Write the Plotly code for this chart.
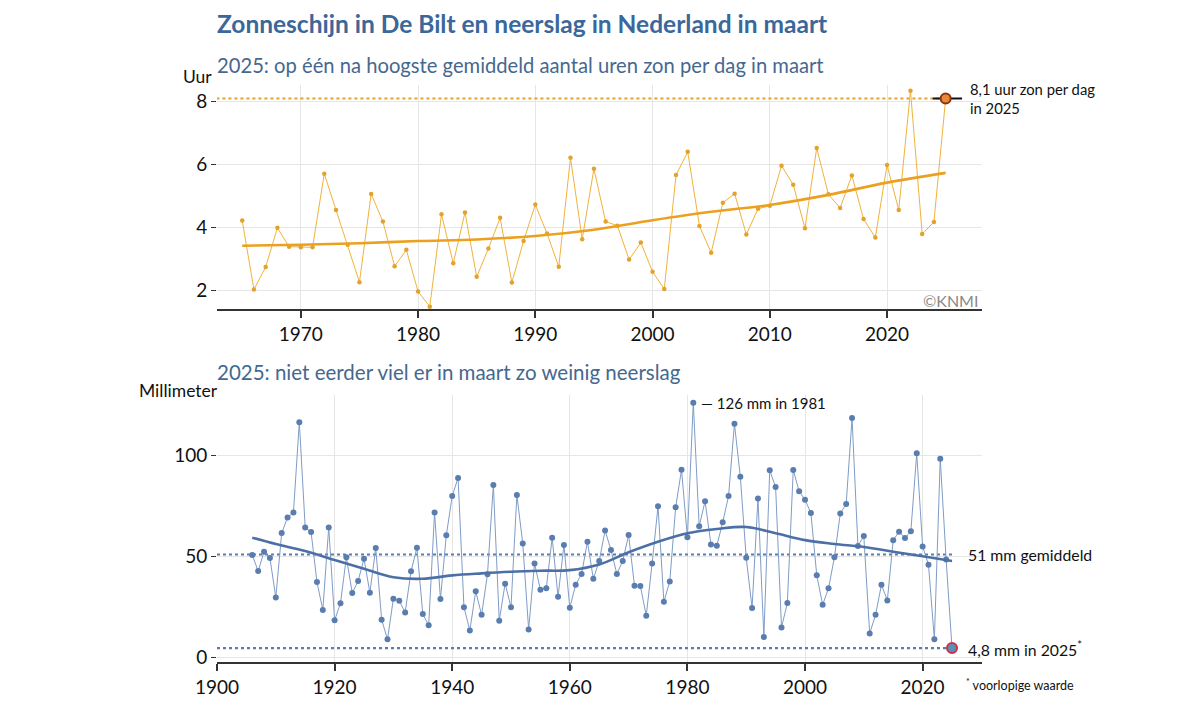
import plotly.graph_objects as go

# ---------------- data ----------------
sun_years = list(range(1965, 2026))
sun_hours = [4.21, 2.02, 2.73, 3.98, 3.38, 3.36, 3.36, 5.70, 4.55, 3.44,
             2.25, 5.06, 4.18, 2.76, 3.28, 1.95, 1.47, 4.41, 2.85, 4.47,
             2.42, 3.32, 4.30, 2.24, 3.56, 4.72, 3.80, 2.74, 6.21, 3.62,
             5.86, 4.18, 4.05, 2.97, 3.51, 2.58, 2.03, 5.66, 6.40, 4.04,
             3.19, 4.78, 5.07, 3.77, 4.59, 4.68, 5.96, 5.35, 3.97, 6.52,
             5.05, 4.61, 5.65, 4.26, 3.67, 5.98, 4.55, 8.35, 3.78, 4.17,
             8.10]
sun_trend_years = [1965, 1970, 1975, 1980, 1985, 1990, 1995, 2000, 2005, 2010, 2015, 2020, 2025]
sun_trend = [3.41, 3.44, 3.49, 3.56, 3.61, 3.72, 3.92, 4.22, 4.49, 4.71, 5.03, 5.42, 5.73]

rain_years = list(range(1906, 2026))
rain_mm = [50.7, 42.8, 52.4, 49.3, 29.8, 61.6, 69.3, 71.7, 116.4, 64.4,
           62.1, 37.4, 23.6, 64.4, 18.5, 26.9, 49.6, 32.0, 37.9, 48.9,
           32.1, 54.2, 18.8, 9.1, 29.2, 28.2, 22.4, 42.7, 54.3, 21.6,
           16.0, 71.7, 29.0, 60.5, 79.9, 88.8, 25.0, 13.5, 32.8, 21.2,
           41.2, 85.3, 18.3, 36.6, 25.0, 80.4, 56.5, 14.0, 46.6, 33.6,
           34.3, 59.3, 30.1, 55.7, 24.7, 36.1, 41.4, 57.3, 39.0, 47.8,
           62.9, 53.2, 41.4, 47.8, 60.6, 35.6, 35.4, 20.8, 46.6, 74.8,
           27.7, 37.7, 74.3, 92.9, 59.5, 126.0, 64.9, 77.3, 56.0, 55.3,
           66.9, 79.9, 115.6, 89.4, 49.4, 24.6, 78.7, 10.2, 92.6, 84.3,
           15.0, 27.0, 92.8, 82.2, 78.1, 71.5, 40.7, 26.2, 34.3, 49.6,
           71.3, 75.9, 118.4, 55.2, 60.1, 12.0, 21.2, 36.1, 28.3, 58.1,
           62.3, 59.1, 62.5, 101.0, 55.0, 46.0, 9.1, 98.3, 48.5, 4.8]
rain_trend_years = [1906, 1910, 1915, 1920, 1925, 1930, 1935, 1940, 1945, 1950,
                    1955, 1960, 1965, 1970, 1975, 1980, 1985, 1990, 1995, 2000,
                    2005, 2010, 2015, 2020, 2025]
rain_trend = [59.3, 56.2, 52.7, 48.3, 44.0, 39.8, 39.0, 40.7, 41.7, 42.5,
              43.0, 43.3, 46.1, 52.1, 57.3, 61.5, 63.6, 64.6, 61.5, 58.1,
              56.2, 54.7, 52.4, 50.1, 47.8]
rain_mean = 51
rain_record_year = 1981
rain_record = 126

sun_x_ticks = [1970, 1980, 1990, 2000, 2010, 2020]
sun_y_ticks = [2, 4, 6, 8]
rain_x_ticks = [1900, 1920, 1940, 1960, 1980, 2000, 2020]
rain_y_ticks = [0, 50, 100]

# ---------------- styles ----------------
FONT = "Lato"
ORANGE = "#f0b23c"
ORANGE_M = "#e3a22e"
ORANGE_T = "#eca020"
BLUE_L = "#7f9cc6"
BLUE_M = "#5a7db0"
BLUE_T = "#4c70a6"
TITLE_BLUE = "#3b679a"
SUB_BLUE = "#45688f"

W, H, OFF = 1200, 712, 8  # page body margin offsets the figure by 8px


def px(x):
    return (x - OFF) / W


def py(y):
    return 1 - (y - OFF) / H


fig = go.Figure()

last_sun_year = sun_years[-1]
last_sun = sun_hours[-1]
last_rain_year = rain_years[-1]
last_rain = rain_mm[-1]

# ---- top chart ----
fig.add_trace(go.Scatter(x=[sun_years[0] - 2.2, last_sun_year], y=[last_sun, last_sun],
                         mode="lines", line=dict(color=ORANGE_M, width=2.2, dash="dot"),
                         xaxis="x", yaxis="y", hoverinfo="skip"))
fig.add_trace(go.Scatter(x=[last_sun_year - 1.1, last_sun_year + 1.4], y=[last_sun, last_sun],
                         mode="lines", line=dict(color="#111111", width=2),
                         xaxis="x", yaxis="y", hoverinfo="skip"))
fig.add_trace(go.Scatter(x=sun_years, y=sun_hours, mode="lines+markers",
                         line=dict(color=ORANGE, width=1),
                         marker=dict(color=ORANGE_M, size=4.5),
                         xaxis="x", yaxis="y"))
fig.add_trace(go.Scatter(x=sun_trend_years, y=sun_trend, mode="lines",
                         line=dict(color=ORANGE_T, width=2.6, shape="spline"),
                         xaxis="x", yaxis="y"))
fig.add_trace(go.Scatter(x=[last_sun_year], y=[last_sun], mode="markers",
                         marker=dict(color="#e8893a", size=10,
                                     line=dict(color="#8a3414", width=2)),
                         xaxis="x", yaxis="y"))

# ---- bottom chart ----
for val, x_end in [(rain_mean, last_rain_year + 0.5), (last_rain, last_rain_year - 0.5)]:
    fig.add_trace(go.Scatter(x=[rain_years[0] - 6, x_end], y=[val, val],
                             mode="lines", line=dict(color=BLUE_M, width=2.2, dash="dot"),
                             xaxis="x2", yaxis="y2", hoverinfo="skip"))
fig.add_trace(go.Scatter(x=rain_years, y=rain_mm, mode="lines+markers",
                         line=dict(color=BLUE_L, width=1),
                         marker=dict(color=BLUE_M, size=6),
                         xaxis="x2", yaxis="y2"))
fig.add_trace(go.Scatter(x=rain_trend_years, y=rain_trend, mode="lines",
                         line=dict(color=BLUE_T, width=2.6, shape="spline"),
                         xaxis="x2", yaxis="y2"))
fig.add_trace(go.Scatter(x=[last_rain_year], y=[last_rain], mode="markers",
                         marker=dict(color="#5b92b3", size=10,
                                     line=dict(color="#c8304e", width=2)),
                         xaxis="x2", yaxis="y2"))

axis_common = dict(showgrid=True, gridcolor="#e6e6e6", gridwidth=1, zeroline=False,
                   ticks="outside", tickcolor="#333333", automargin=False,
                   tickfont=dict(family=FONT, size=19, color="#111111"))

fig.update_layout(
    width=W, height=H,
    margin=dict(l=0, r=0, t=0, b=0, autoexpand=False),
    paper_bgcolor="white", plot_bgcolor="white",
    showlegend=False,
    font=dict(family=FONT, color="#111111"),
    xaxis=dict(domain=[px(217), px(982)], range=[1962.85, 2028.1],
               tickvals=sun_x_ticks, showline=True, linecolor="#333333", linewidth=1.6,
               ticklen=7, tickwidth=1.6, anchor="y", **axis_common),
    yaxis=dict(domain=[py(309), py(85)], range=[1.395, 8.53],
               tickvals=sun_y_ticks, showline=False, ticklen=5, tickwidth=1.2,
               anchor="x", **axis_common),
    xaxis2=dict(domain=[px(217), px(982)], range=[1900, 2030.1],
                tickvals=rain_x_ticks, showline=True, linecolor="#333333", linewidth=1.6,
                ticklen=7, tickwidth=1.6, anchor="y2", **axis_common),
    yaxis2=dict(domain=[py(662), py(395)], range=[-2.1, 129.8],
                tickvals=rain_y_ticks, showline=False, ticklen=5, tickwidth=1.2,
                anchor="x2", **axis_common),
)

ann = []
ann.append(dict(text="<b>Zonneschijn in De Bilt en neerslag in Nederland in maart</b>",
                xref="paper", yref="paper", x=px(215), y=py(23),
                xanchor="left", yanchor="middle", showarrow=False,
                font=dict(family=FONT, size=24.5, color=TITLE_BLUE)))
ann.append(dict(text="2025: op één na hoogste gemiddeld aantal uren zon per dag in maart",
                xref="paper", yref="paper", x=px(215), y=py(65),
                xanchor="left", yanchor="middle", showarrow=False,
                font=dict(family=FONT, size=20.2, color=SUB_BLUE)))
ann.append(dict(text="Uur", xref="paper", yref="paper", x=px(214), y=py(76),
                xanchor="right", yanchor="middle", showarrow=False,
                font=dict(family=FONT, size=17.5, color="#111111")))
ann.append(dict(text="8,1 uur zon per dag<br>in 2025", xref="x", yref="y",
                x=last_sun_year + 1.9, y=last_sun, xanchor="left", yanchor="middle",
                align="left", showarrow=False,
                font=dict(family=FONT, size=14.8, color="#111111")))
ann.append(dict(text="©KNMI", xref="paper", yref="paper", x=px(980), y=py(300),
                xanchor="right", yanchor="middle", showarrow=False,
                font=dict(family=FONT, size=16, color="#8a8a8a")))
ann.append(dict(text="2025: niet eerder viel er in maart zo weinig neerslag",
                xref="paper", yref="paper", x=px(215), y=py(372),
                xanchor="left", yanchor="middle", showarrow=False,
                font=dict(family=FONT, size=20.5, color=SUB_BLUE)))
ann.append(dict(text="Millimeter", xref="paper", yref="paper", x=px(220), y=py(390),
                xanchor="right", yanchor="middle", showarrow=False,
                font=dict(family=FONT, size=17.5, color="#111111")))
ann.append(dict(text="— %d mm in %d" % (rain_record, rain_record_year), xref="x2", yref="y2",
                x=rain_record_year + 0.9, y=rain_mm[rain_years.index(rain_record_year)],
                xanchor="left", yanchor="middle", showarrow=False,
                font=dict(family=FONT, size=15, color="#111111")))
ann.append(dict(text="%d mm gemiddeld" % rain_mean, xref="x2", yref="y2",
                x=last_rain_year + 2.3, y=rain_mean, xanchor="left", yanchor="middle",
                showarrow=False, font=dict(family=FONT, size=15.8, color="#111111")))
ann.append(dict(text=("%.1f" % last_rain).replace(".", ",") + " mm in 2025<sup>*</sup>",
                xref="x2", yref="y2",
                x=last_rain_year + 2.3, y=last_rain, xanchor="left", yanchor="middle",
                showarrow=False, font=dict(family=FONT, size=15.8, color="#111111")))
ann.append(dict(text="<sup>*</sup> voorlopige waarde", xref="paper", yref="paper",
                x=px(964), y=py(684), xanchor="left", yanchor="middle",
                showarrow=False, font=dict(family=FONT, size=12.5, color="#111111")))
fig.update_layout(annotations=ann)

fig.write_html("out.html")
